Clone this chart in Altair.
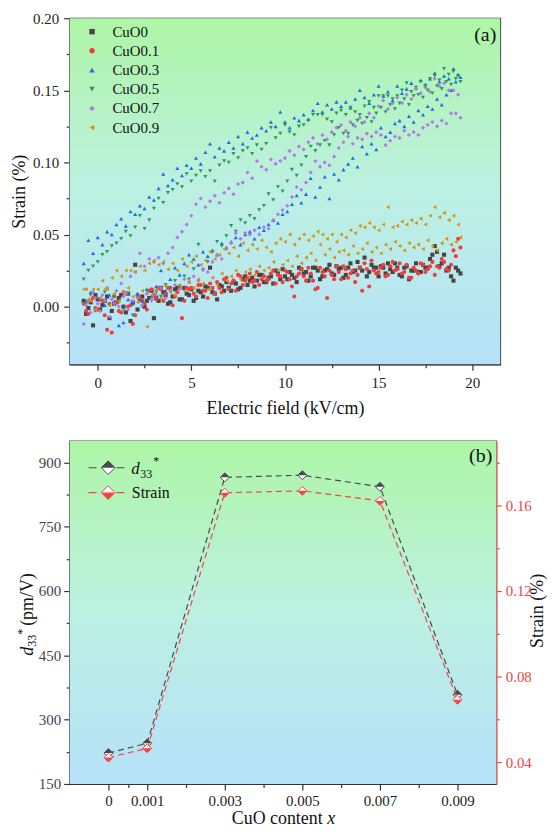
import altair as alt
import pandas as pd

FONT = "Liberation Serif, Times New Roman, Times, serif"

# ---------------- Panel (a) data: strain (%) vs electric field (kV/cm) ----------------
E1 = [-0.75, -0.5, -0.25,
      0.0, 0.25, 0.5, 0.75, 1.0, 1.25, 1.5, 1.75, 2.0, 2.25, 2.5, 2.75,
      3.0, 3.25, 3.5, 3.75, 4.0, 4.25, 4.5, 4.75, 5.0, 5.25, 5.5, 5.75,
      6.0, 6.25, 6.5, 6.75, 7.0, 7.25, 7.5, 7.75, 8.0, 8.25, 8.5, 8.75,
      9.0, 9.25, 9.5, 9.75, 10.0, 10.25, 10.5, 10.75, 11.0, 11.25, 11.5, 11.75,
      12.0, 12.25, 12.5, 12.75, 13.0, 13.25, 13.5, 13.75, 14.0, 14.25, 14.5, 14.75,
      15.0, 15.25, 15.5, 15.75, 16.0, 16.25, 16.5, 16.75, 17.0, 17.25, 17.5, 17.75,
      18.0, 18.25, 18.5, 18.75, 19.0, 19.25]
E2 = [-0.625, -0.375, -0.125,
      0.125, 0.375, 0.625, 0.875, 1.125, 1.375, 1.625, 1.875, 2.125, 2.375, 2.625, 2.875,
      3.125, 3.375, 3.625, 3.875, 4.125, 4.375, 4.625, 4.875, 5.125, 5.375, 5.625, 5.875,
      6.125, 6.375, 6.625, 6.875, 7.125, 7.375, 7.625, 7.875, 8.125, 8.375, 8.625, 8.875,
      9.125, 9.375, 9.625, 9.875, 10.125, 10.375, 10.625, 10.875, 11.125, 11.375, 11.625, 11.875,
      12.125, 12.375, 12.625, 12.875, 13.125, 13.375, 13.625, 13.875, 14.125, 14.375, 14.625, 14.875,
      15.125, 15.375, 15.625, 15.875, 16.125, 16.375, 16.625, 16.875, 17.125, 17.375, 17.625, 17.875,
      18.125, 18.375, 18.625, 18.875, 19.125, 19.375]

cuo0_a = [0.004, -0.001, -0.013,
          0.005, 0.001, 0.007, -0.003, 0.003, 0.008, -0.004, -0.010, 0.029, 0.005, 0.000, 0.006,
          -0.008, 0.004, 0.010, 0.002, 0.007, 0.013, 0.005, 0.009, 0.012, 0.006, 0.010, 0.014,
          0.027, 0.009, 0.015, 0.011, 0.013, 0.017, 0.012, 0.019, 0.015, 0.020, 0.018, 0.022,
          0.017, 0.021, 0.025, 0.019, 0.021, 0.024, 0.020, 0.027, 0.023, 0.018, 0.027, 0.025,
          0.021, 0.026, 0.023, 0.028, 0.027, 0.022, 0.030, 0.025, 0.027, 0.034, 0.024, 0.027,
          0.021, 0.027, 0.030, 0.024, 0.027, 0.021, 0.028, 0.025, 0.030, 0.024, 0.027, 0.033,
          0.042, 0.028, 0.036, 0.027, 0.018, 0.025]
cuo0_b = [-0.005, 0.003, 0.008,
          -0.002, 0.004, -0.008, 0.002, 0.006, 0.000, 0.009, 0.003, -0.002, 0.007, 0.004, 0.011,
          0.006, 0.013, 0.008, 0.003, 0.012, 0.005, 0.013, 0.008, 0.004, 0.011, 0.007, 0.013,
          0.010, 0.005, 0.014, 0.017, 0.011, 0.016, 0.013, 0.021, 0.018, 0.014, 0.022, 0.017,
          0.020, 0.016, 0.023, 0.026, 0.019, 0.022, 0.017, 0.026, 0.024, 0.021, 0.027, 0.019,
          0.025, 0.029, 0.022, 0.026, 0.020, 0.027, 0.024, 0.031, 0.025, 0.021, 0.029, 0.027,
          0.028, 0.023, 0.026, 0.030, 0.022, 0.027, 0.019, 0.025, 0.024, 0.029, 0.027, 0.036,
          0.038, 0.030, 0.025, 0.021, 0.027, 0.023]

cuo01_a = [0.002, -0.005, 0.006,
           -0.002, 0.004, -0.016, -0.018, 0.003, -0.004, 0.009, 0.001, -0.006, 0.006, 0.002, 0.011,
           0.008, 0.013, 0.004, 0.013, 0.001, 0.010, -0.008, 0.013, 0.013, 0.007, 0.015, 0.011,
           0.016, 0.009, 0.013, 0.019, 0.012, 0.018, 0.022, 0.015, 0.020, 0.017, 0.024, 0.019,
           0.018, 0.023, 0.016, 0.021, 0.025, 0.019, 0.007, 0.023, 0.021, 0.027, 0.018, 0.013,
           0.024, 0.006, 0.022, 0.028, 0.019, 0.026, 0.023, 0.017, 0.027, 0.030, 0.014, 0.025,
           0.024, 0.029, 0.022, 0.031, 0.026, 0.023, 0.029, 0.020, 0.025, 0.030, 0.024, 0.028,
           0.022, 0.027, 0.031, 0.025, 0.039, 0.047]
cuo01_b = [-0.003, 0.004, -0.001,
           0.005, -0.006, 0.002, 0.007, -0.003, 0.010, 0.000, -0.012, 0.008, 0.004, -0.002, 0.012,
           0.005, 0.012, 0.009, 0.013, 0.007, 0.013, 0.004, 0.012, 0.009, 0.015, 0.011, 0.006,
           0.013, 0.017, 0.010, 0.020, 0.016, 0.011, 0.021, 0.018, 0.023, 0.018, 0.015, 0.021,
           0.019, 0.025, 0.022, 0.017, 0.024, 0.014, 0.021, 0.026, 0.018, 0.023, 0.012, 0.027,
           0.021, 0.025, 0.019, 0.024, 0.028, 0.020, 0.025, 0.022, 0.011, 0.026, 0.032, 0.023,
           0.027, 0.021, 0.028, 0.025, 0.030, 0.024, 0.020, 0.027, 0.023, 0.029, 0.026, 0.031,
           0.028, 0.033, 0.026, 0.029, 0.035, 0.041]

cuo03_a = [0.030, 0.046, 0.037,
           0.048, 0.043, 0.052, 0.050, 0.057, 0.061, 0.056, 0.066, 0.064, 0.070, 0.068, 0.076,
           0.074, 0.082, 0.092, 0.084, 0.088, 0.096, 0.091, 0.098, 0.096, 0.103, 0.099, 0.107,
           0.113, 0.104, 0.110, 0.108, 0.114, 0.110, 0.118, 0.113, 0.121, 0.117, 0.119, 0.124,
           0.122, 0.128, 0.125, 0.135, 0.128, 0.124, 0.131, 0.129, 0.133, 0.130, 0.136, 0.141,
           0.135, 0.140, 0.137, 0.142, 0.139, 0.142, 0.138, 0.144, 0.150, 0.145, 0.141, 0.147,
           0.153, 0.146, 0.149, 0.143, 0.153, 0.148, 0.151, 0.155, 0.152, 0.157, 0.154, 0.158,
           0.162, 0.156, 0.160, 0.158, 0.165, 0.161]
cuo03_b = [0.004, 0.010, -0.002,
           0.006, 0.001, 0.008, 0.003, -0.013, -0.011, 0.005, 0.002, 0.009, 0.004, 0.012, 0.007,
           0.014, 0.025, 0.011, 0.019, 0.027, 0.022, 0.030, 0.036, 0.033, 0.029, 0.038, 0.035,
           0.039, 0.036, 0.044, 0.041, 0.045, 0.048, 0.043, 0.050, 0.052, 0.047, 0.055, 0.053,
           0.057, 0.060, 0.058, 0.064, 0.066, 0.071, 0.077, 0.072, 0.078, 0.089, 0.076, 0.083,
           0.090, 0.075, 0.092, 0.088, 0.095, 0.099, 0.103, 0.097, 0.111, 0.106, 0.113, 0.109,
           0.124, 0.118, 0.121, 0.127, 0.129, 0.125, 0.132, 0.128, 0.136, 0.133, 0.139, 0.137,
           0.144, 0.140, 0.147, 0.150, 0.156, 0.159]

cuo05_a = [0.019, 0.025, 0.028,
           0.031, 0.036, 0.038, 0.042, 0.044, 0.047, 0.052, 0.049, 0.055, 0.063, 0.054, 0.060,
           0.068, 0.075, 0.072, 0.079, 0.081, 0.085, 0.083, 0.092, 0.087, 0.091, 0.094, 0.090,
           0.094, 0.087, 0.098, 0.101, 0.100, 0.106, 0.103, 0.108, 0.110, 0.106, 0.112, 0.109,
           0.113, 0.124, 0.117, 0.120, 0.126, 0.121, 0.119, 0.125, 0.126, 0.129, 0.133, 0.133,
           0.133, 0.130, 0.128, 0.134, 0.136, 0.133, 0.138, 0.135, 0.133, 0.139, 0.142, 0.138,
           0.146, 0.146, 0.146, 0.144, 0.146, 0.150, 0.155, 0.149, 0.152, 0.156, 0.153, 0.158,
           0.160, 0.157, 0.165, 0.161, 0.163, 0.160]
cuo05_b = [0.002, 0.008, -0.003,
           0.005, 0.010, 0.001, 0.007, 0.003, -0.002, 0.009, -0.006, 0.006, 0.000, 0.011, 0.004,
           0.010, 0.007, 0.015, 0.012, 0.018, 0.014, 0.021, 0.019, 0.026, 0.043, 0.025, 0.031,
           0.038, 0.045, 0.042, 0.049, 0.056, 0.052, 0.060, 0.058, 0.063, 0.061, 0.067, 0.070,
           0.078, 0.074, 0.083, 0.080, 0.087, 0.095, 0.091, 0.098, 0.104, 0.111, 0.108, 0.112,
           0.115, 0.112, 0.119, 0.124, 0.120, 0.120, 0.126, 0.129, 0.127, 0.131, 0.128, 0.134,
           0.138, 0.135, 0.140, 0.137, 0.141, 0.144, 0.140, 0.146, 0.147, 0.145, 0.150, 0.148,
           0.153, 0.151, 0.156, 0.154, 0.158, 0.156]

cuo07_a = [-0.012, 0.004, 0.010,
           0.002, 0.008, 0.013, 0.005, 0.011, 0.016, 0.009, 0.021, 0.024, 0.037, 0.028, 0.033,
           0.031, 0.034, 0.030, 0.037, 0.041, 0.048, 0.052, 0.057, 0.063, 0.071, 0.075, 0.069,
           0.073, 0.077, 0.072, 0.079, 0.082, 0.078, 0.085, 0.086, 0.093, 0.089, 0.101, 0.097,
           0.095, 0.102, 0.099, 0.101, 0.103, 0.108, 0.105, 0.111, 0.109, 0.114, 0.117, 0.113,
           0.119, 0.116, 0.121, 0.124, 0.126, 0.122, 0.128, 0.125, 0.131, 0.128, 0.134, 0.131,
           0.139, 0.143, 0.137, 0.141, 0.145, 0.141, 0.147, 0.144, 0.151, 0.148, 0.152, 0.149,
           0.158, 0.153, 0.155, 0.150, 0.150, 0.147]
cuo07_b = [0.001, -0.004, 0.006,
           -0.003, 0.004, -0.007, 0.002, 0.000, 0.007, -0.002, 0.004, 0.006, 0.001, 0.009, 0.005,
           0.008, 0.013, 0.006, 0.011, 0.015, 0.012, 0.019, 0.017, 0.021, 0.018, 0.026, 0.024,
           0.031, 0.036, 0.033, 0.040, 0.044, 0.051, 0.047, 0.051, 0.050, 0.053, 0.050, 0.055,
           0.054, 0.060, 0.064, 0.067, 0.070, 0.076, 0.083, 0.081, 0.086, 0.093, 0.101, 0.097,
           0.100, 0.098, 0.104, 0.110, 0.114, 0.118, 0.113, 0.117, 0.116, 0.120, 0.118, 0.121,
           0.119, 0.112, 0.115, 0.118, 0.117, 0.122, 0.119, 0.121, 0.119, 0.124, 0.126, 0.128,
           0.125, 0.129, 0.127, 0.134, 0.134, 0.131]

cuo09_a = [0.012, 0.005, 0.012,
           0.012, 0.018, 0.012, 0.020, 0.025, 0.021, 0.025, 0.025, 0.024, 0.028, 0.025, 0.030,
           0.032, 0.029, 0.031, 0.026, 0.030, 0.025, 0.033, 0.028, 0.031, 0.035, 0.029, 0.032,
           0.038, 0.033, 0.036, 0.040, 0.037, 0.041, 0.035, 0.044, 0.039, 0.043, 0.040, 0.046,
           0.041, 0.038, 0.044, 0.047, 0.045, 0.050, 0.043, 0.047, 0.050, 0.046, 0.049, 0.052,
           0.050, 0.047, 0.050, 0.045, 0.050, 0.048, 0.053, 0.051, 0.056, 0.055, 0.058, 0.055,
           0.053, 0.057, 0.069, 0.055, 0.056, 0.059, 0.057, 0.060, 0.058, 0.061, 0.057, 0.063,
           0.069, 0.062, 0.065, 0.060, 0.063, 0.057]
cuo09_b = [0.012, 0.004, -0.002,
           0.006, 0.012, 0.001, 0.009, 0.004, 0.010, 0.013, 0.007, 0.003, 0.011, -0.014, 0.008,
           0.012, 0.006, 0.014, 0.010, 0.008, 0.015, 0.011, 0.017, 0.013, 0.019, 0.016, 0.012,
           0.020, 0.015, 0.023, 0.018, 0.021, 0.025, 0.019, 0.024, 0.026, 0.022, 0.028, 0.025,
           0.027, 0.031, 0.025, 0.029, 0.032, 0.028, 0.035, 0.030, 0.034, 0.037, 0.032, 0.043,
           0.036, 0.040, 0.034, 0.038, 0.039, 0.036, 0.042, 0.037, 0.040, 0.044, 0.038, 0.041,
           0.037, 0.043, 0.040, 0.045, 0.042, 0.039, 0.044, 0.041, 0.043, 0.040, 0.046, 0.042,
           0.039, 0.044, 0.047, 0.043, 0.045, 0.048]

names = ["CuO0", "CuO0.1", "CuO0.3", "CuO0.5", "CuO0.7", "CuO0.9"]
colors = ["#454545", "#f23d3d", "#1a6fe8", "#2a9a5c", "#b774e8", "#d4920c"]
shapes = ["square", "circle", "triangle-up", "triangle-down", "diamond", "triangle-left"]
branches = [(cuo0_a, cuo0_b), (cuo01_a, cuo01_b), (cuo03_a, cuo03_b),
            (cuo05_a, cuo05_b), (cuo07_a, cuo07_b), (cuo09_a, cuo09_b)]

rows = []
for name, (ya, yb) in zip(names, branches):
    for e, s in zip(E1, ya):
        rows.append({"E": e, "S": s, "sample": name})
    for e, s in zip(E2, yb):
        rows.append({"E": e, "S": s, "sample": name})
df_a = pd.DataFrame(rows)

# ---------------- Panel (b) data ----------------
cuo_x = [0, 0.001, 0.003, 0.005, 0.007, 0.009]
d33 = [222, 245, 865, 870, 843, 358]
strain_max = [0.0423, 0.0466, 0.1658, 0.1667, 0.1620, 0.0693]
df_b = pd.DataFrame({"x": cuo_x, "d33": d33, "strain": strain_max})

one = pd.DataFrame({"k": [0]})

grad = alt.LinearGradient(
    gradient="linear",
    stops=[alt.GradientStop(color="#aef6a6", offset=0),
           alt.GradientStop(color="#bcf0e2", offset=0.5),
           alt.GradientStop(color="#b6e1f9", offset=1)],
    x1=0, x2=0, y1=0, y2=1)

def background():
    return alt.Chart(one).mark_rect(fill=grad).encode(
        x=alt.value(0), x2=alt.value("width"), y=alt.value(0), y2=alt.value("height"))

def text_at(txt, x, y, size, align="left", baseline="alphabetic", style="normal",
            angle=0, color="#111111"):
    return alt.Chart(one).mark_text(
        text=txt, font=FONT, fontSize=size, fontStyle=style, align=align,
        baseline=baseline, angle=angle, color=color).encode(
        x=alt.value(x), y=alt.value(y))

# ---------------- Panel (a) ----------------
ax_x_a = alt.Axis(
    title="Electric field (kV/cm)",
    values=[0, 2.5, 5, 7.5, 10, 12.5, 15, 17.5, 20],
    labelExpr="datum.value % 5 == 0 ? format(datum.value, 'd') : ''",
    tickSize={"condition": {"test": "datum.value % 5 != 0", "value": 3.5}, "value": 6},
    labelPadding=5, titlePadding=9, labelFlush=False, labelOverlap=False)
ax_y_a = alt.Axis(
    title="Strain (%)",
    values=[-0.025, 0.0, 0.025, 0.05, 0.075, 0.1, 0.125, 0.15, 0.175, 0.2],
    labelExpr="round(datum.value*1000) % 50 == 0 ? format(datum.value, '.2f') : ''",
    tickSize={"condition": {"test": "round(datum.value*1000) % 50 != 0", "value": 3.5}, "value": 6},
    labelPadding=5, titlePadding=4, labelFlush=False, labelOverlap=False)

leg = alt.Legend(title=None, orient="none", legendX=15, legendY=6, padding=0,
                 labelFont=FONT, labelFontSize=15, labelColor="#111111",
                 symbolSize=30, symbolStrokeWidth=0, labelOffset=13, rowPadding=3.3)

pts = alt.Chart(df_a).mark_point(filled=True, size=17, opacity=1, strokeWidth=0).encode(
    x=alt.X("E:Q", scale=alt.Scale(domain=[-1.5, 21.5], nice=False, zero=False), axis=ax_x_a),
    y=alt.Y("S:Q", scale=alt.Scale(domain=[-0.04, 0.2], nice=False, zero=False), axis=ax_y_a),
    color=alt.Color("sample:N", scale=alt.Scale(domain=names, range=colors), legend=leg),
    shape=alt.Shape("sample:N", scale=alt.Scale(domain=names, range=shapes), legend=leg),
)

panel_a = alt.layer(
    background(), pts, text_at("(a)", 429, 23, 20, align="right")
).properties(width=433, height=348)

# ---------------- Panel (b) ----------------
GRAY = "#4a4a4a"
RED = "#f24545"
DIAM = "M0,-1L1,0L0,1L-1,0Z"
TOP = "M-1,0L0,-1L1,0Z"
BOT = "M-1,0L0,1L1,0Z"

ax_x_b = alt.Axis(
    title=None,
    values=[0, 0.0005, 0.001, 0.002, 0.003, 0.004, 0.005, 0.006, 0.007, 0.008, 0.009],
    labelExpr="indexof([0.0005, 0.002, 0.004, 0.006, 0.008], datum.value) >= 0 ? '' : format(datum.value, '~g')",
    tickSize={"condition": {"test": "indexof([0.0005, 0.002, 0.004, 0.006, 0.008], datum.value) >= 0", "value": 3.5}, "value": 6},
    labelPadding=4, labelFlush=False, labelOverlap=False)
xb = alt.X("x:Q", scale=alt.Scale(domain=[-0.001, 0.010], nice=False, zero=False), axis=ax_x_b)

ax_l = alt.Axis(
    title=None, orient="left",
    values=[150, 225, 300, 375, 450, 525, 600, 675, 750, 825, 900],
    labelExpr="datum.value % 150 == 0 ? format(datum.value, 'd') : ''",
    tickSize={"condition": {"test": "datum.value % 150 != 0", "value": 3.5}, "value": 6},
    labelPadding=3, labelColor="#444444", labelFlush=False, labelOverlap=False)
yl = alt.Y("d33:Q", scale=alt.Scale(domain=[150, 950], nice=False, zero=False), axis=ax_l)

ax_r = alt.Axis(
    title=None, orient="right",
    values=[0.04, 0.06, 0.08, 0.1, 0.12, 0.14, 0.16, 0.18],
    labelExpr="round(datum.value*100) % 4 == 0 ? format(datum.value, '.2f') : ''",
    tickSize={"condition": {"test": "round(datum.value*100) % 4 != 0", "value": 3}, "value": 5},
    labelPadding=4, labelColor=RED, domainColor=RED, tickColor=RED,
    labelFlush=False, labelOverlap=False)
yr = alt.Y("strain:Q", scale=alt.Scale(domain=[0.03, 0.19], nice=False, zero=False), axis=ax_r)

base_b = alt.Chart(df_b)
d33_line = base_b.mark_line(color=GRAY, strokeDash=[6, 4], strokeWidth=1.2).encode(x=xb, y=yl)
d33_full = base_b.mark_point(shape=DIAM, size=81, filled=True, fill="white", stroke=GRAY,
                             strokeWidth=1, opacity=1).encode(x=xb, y=yl)
d33_half = base_b.mark_point(shape=TOP, size=81, filled=True, fill=GRAY, strokeWidth=0,
                             opacity=1).encode(x=xb, y=yl)

st_line = base_b.mark_line(color=RED, strokeDash=[6, 4], strokeWidth=1.2).encode(x=xb, y=yr)
st_full = base_b.mark_point(shape=DIAM, size=81, filled=True, fill="white", stroke=RED,
                            strokeWidth=1, opacity=1).encode(x=xb, y=yr)
st_half = base_b.mark_point(shape=BOT, size=81, filled=True, fill=RED, strokeWidth=0,
                            opacity=1).encode(x=xb, y=yr)

def legend_row(y, color, half):
    r = alt.Chart(one).mark_rule(color=color, strokeDash=[8, 20], strokeWidth=1.2).encode(
        x=alt.value(19), x2=alt.value(55), y=alt.value(y))
    f = alt.Chart(one).mark_point(shape=DIAM, size=190, filled=True, fill="white", stroke=color,
                                  strokeWidth=1, opacity=1).encode(x=alt.value(38.7), y=alt.value(y))
    h = alt.Chart(one).mark_point(shape=half, size=190, filled=True, fill=color, strokeWidth=0,
                                  opacity=1).encode(x=alt.value(38.7), y=alt.value(y))
    return [r, f, h]

extras = (legend_row(27, GRAY, TOP) + legend_row(52, RED, BOT) + [
    text_at("d", 62, 33.3, 17, style="italic"),
    text_at("33", 71, 37.5, 12),
    text_at("*", 84, 24.5, 12),
    text_at("Strain", 62.5, 57.6, 16),
    text_at("(b)", 425, 21, 20, align="right"),
    # left axis title: d33* (pm/V)
    text_at("d", -37, 216, 18, style="italic", angle=270),
    text_at("33", -33.5, 207, 12, angle=270),
    text_at("*", -44, 195, 12, angle=270),
    text_at("(pm/V)", -37, 186, 18, angle=270),
    # right axis title
    text_at("Strain (%)", 470.5, 171, 18, align="center", baseline="middle", angle=270),
    # bottom axis title: CuO content x
    text_at("CuO content", 163, 385.5, 18),
    text_at("x", 259, 385.5, 18, style="italic"),
])

g1 = alt.layer(background(), d33_line, d33_full, d33_half, *extras)
g2 = alt.layer(st_line, st_full, st_half)
panel_b = alt.layer(g1, g2).resolve_scale(y="independent").properties(width=429, height=345)

chart = alt.vconcat(panel_a, panel_b, spacing=22).properties(
    padding={"left": 2, "top": 0, "right": -1, "bottom": -3.5}
).configure_view(
    stroke="#333333", strokeWidth=1.3
).configure_axis(
    labelFont=FONT, titleFont=FONT, labelFontSize=15, titleFontSize=18,
    titleFontWeight="normal", labelColor="#222222", titleColor="#111111",
    domainColor="#333333", tickColor="#333333", domainWidth=1.3, tickWidth=1.2, grid=False
).configure_text(font=FONT).configure_legend(labelFont=FONT)

chart.save("out.html", embed_options={"renderer": "svg", "actions": False})
